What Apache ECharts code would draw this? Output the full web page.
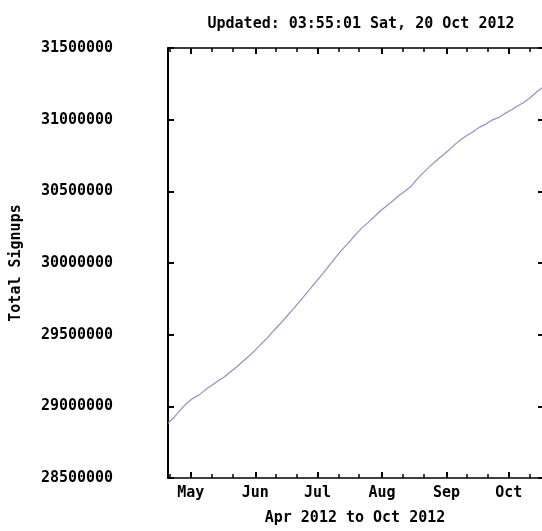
<!DOCTYPE html>
<html>
<head>
<meta charset="utf-8">
<script src="https://cdn.jsdelivr.net/npm/echarts@6/dist/echarts.min.js"></script>
<style>
html,body{margin:0;padding:0;background:#fff;}
#chart{width:542px;height:531px;}
</style>
</head>
<body>
<div id="chart"></div>
<script>
const titleText = 'Updated: 03:55:01 Sat, 20 Oct 2012';
const yAxisName = 'Total Signups';
const xAxisName = 'Apr 2012 to Oct 2012';

const dates = [
  '2012-04-20','2012-04-23','2012-04-26','2012-04-29','2012-05-02','2012-05-05','2012-05-08','2012-05-11',
  '2012-05-14','2012-05-17','2012-05-20','2012-05-23','2012-05-26','2012-05-29','2012-06-01','2012-06-04',
  '2012-06-07','2012-06-10','2012-06-13','2012-06-16','2012-06-19','2012-06-22','2012-06-25','2012-06-28',
  '2012-07-01','2012-07-04','2012-07-07','2012-07-10','2012-07-13','2012-07-16','2012-07-19','2012-07-22',
  '2012-07-25','2012-07-28','2012-07-31','2012-08-03','2012-08-06','2012-08-09','2012-08-12','2012-08-15',
  '2012-08-18','2012-08-21','2012-08-24','2012-08-27','2012-08-30','2012-09-02','2012-09-05','2012-09-08',
  '2012-09-11','2012-09-14','2012-09-17','2012-09-20','2012-09-23','2012-09-26','2012-09-29','2012-10-02',
  '2012-10-05','2012-10-08','2012-10-11','2012-10-14','2012-10-17'
];
const signups = [
  28882000,28924000,28976000,29021000,29056000,29080000,29115000,29146000,
  29177000,29205000,29240000,29274000,29313000,29351000,29392000,29438000,
  29479000,29531000,29576000,29625000,29674000,29726000,29778000,29830000,
  29882000,29934000,29990000,30045000,30097000,30142000,30194000,30240000,
  30278000,30319000,30361000,30396000,30431000,30469000,30500000,30535000,
  30587000,30632000,30674000,30712000,30750000,30785000,30826000,30861000,
  30892000,30917000,30948000,30969000,30997000,31014000,31042000,31066000,
  31094000,31118000,31149000,31188000,31222000
];

const xStart = '2012-04-20';
const xEnd = '2012-10-17';
const monthTicks = ['2012-05-01','2012-06-01','2012-07-01','2012-08-01','2012-09-01','2012-10-01'];
const monthNames = ['May','Jun','Jul','Aug','Sep','Oct'];
const minorTicks = [
  '2012-04-21','2012-05-11','2012-05-21','2012-06-11','2012-06-21','2012-07-11','2012-07-21',
  '2012-08-11','2012-08-21','2012-09-11','2012-09-21','2012-10-11'
];
const yMin = 28500000, yMax = 31500000, yStep = 500000;

function ts(s){ const p = s.split('-').map(Number); return new Date(p[0], p[1]-1, p[2]).getTime(); }

const monthTs = monthTicks.map(ts);
const minorTs = minorTicks.map(ts);
const seriesData = dates.map((d,i) => [ts(d), signups[i]]);

const FONT = '"DejaVu Sans Mono", monospace';
const FS = 15;
const black = '#000';

function baseX(extra){
  return Object.assign({
    type: 'value', min: ts(xStart), max: ts(xEnd),
    splitLine: {show: false}
  }, extra);
}

const chart = echarts.init(document.getElementById('chart'), null, {renderer: 'canvas'});
chart.setOption({
  backgroundColor: '#fff',
  animation: false,
  title: {
    text: titleText, left: 356, top: 12, textAlign: 'center',
    textStyle: {fontFamily: FONT, fontWeight: 'bold', fontSize: FS, color: black}
  },
  grid: {left: 168, right: 0, top: 48, bottom: 51, containLabel: false},
  xAxis: [
    baseX({
      position: 'bottom',
      name: xAxisName, nameLocation: 'middle', nameGap: 33,
      nameTextStyle: {fontFamily: FONT, fontWeight: 'bold', fontSize: FS, color: black},
      axisLine: {show: true, lineStyle: {color: black, width: 1.5}},
      axisTick: {show: true, inside: true, length: 6, lineStyle: {color: black, width: 2}, customValues: monthTs},
      axisLabel: {
        show: true, margin: 8, customValues: monthTs,
        fontFamily: FONT, fontWeight: 'bold', fontSize: FS, color: black,
        formatter: v => monthNames[monthTs.indexOf(v)] || ''
      }
    }),
    baseX({
      position: 'bottom',
      axisLine: {show: false},
      axisTick: {show: true, inside: true, length: 4, lineStyle: {color: black, width: 1.5}, customValues: minorTs},
      axisLabel: {show: false}
    }),
    baseX({
      position: 'top',
      axisLine: {show: true, lineStyle: {color: black, width: 1.5}},
      axisTick: {show: true, inside: true, length: 6, lineStyle: {color: black, width: 2}, customValues: monthTs},
      axisLabel: {show: false}
    }),
    baseX({
      position: 'top',
      axisLine: {show: false},
      axisTick: {show: true, inside: true, length: 4, lineStyle: {color: black, width: 1.5}, customValues: minorTs},
      axisLabel: {show: false}
    })
  ],
  yAxis: [
    {
      type: 'value', position: 'left', min: yMin, max: yMax, interval: yStep,
      name: yAxisName, nameLocation: 'middle', nameGap: 144, nameRotate: 90,
      nameTextStyle: {fontFamily: FONT, fontWeight: 'bold', fontSize: FS, color: black},
      axisLine: {show: true, lineStyle: {color: black, width: 2}},
      axisTick: {show: true, inside: true, length: 6, lineStyle: {color: black, width: 2}},
      axisLabel: {show: true, align: 'center', margin: 91, fontFamily: FONT, fontWeight: 'bold', fontSize: FS, color: black,
        formatter: v => String(v)},
      splitLine: {show: false}
    },
    {
      type: 'value', position: 'right', min: yMin, max: yMax, interval: yStep,
      axisLine: {show: false},
      axisTick: {show: true, inside: true, length: 4, lineStyle: {color: black, width: 2}},
      axisLabel: {show: false},
      splitLine: {show: false}
    }
  ],
  series: [{
    type: 'line', xAxisIndex: 0, yAxisIndex: 0,
    data: seriesData, showSymbol: false, symbol: 'none',
    lineStyle: {color: '#9090c8', width: 1.2},
    silent: true
  }]
});
</script>
</body>
</html>
